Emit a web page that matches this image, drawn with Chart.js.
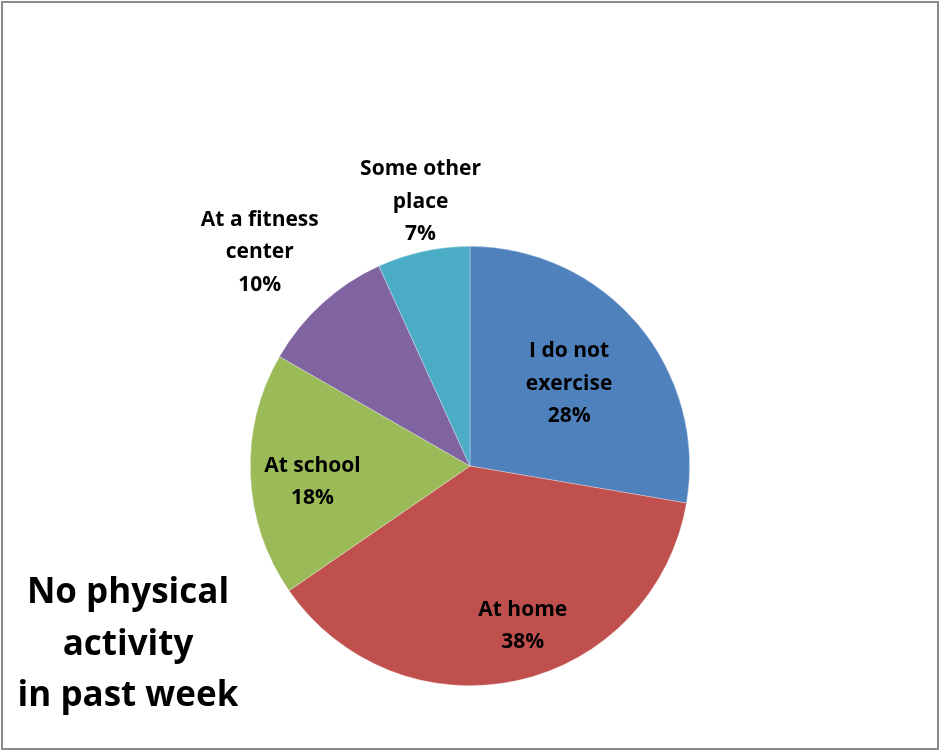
<!DOCTYPE html>
<html>
<head>
<meta charset="utf-8">
<script src="https://cdn.jsdelivr.net/npm/chart.js@4.4.1/dist/chart.umd.min.js"></script>
<style>
  html, body { margin: 0; padding: 0; background: #fff; }
  #wrap { position: relative; width: 940px; height: 751px; }
  #frame { position: absolute; left: 1px; top: 1px; width: 934px; height: 745px; border: 2px solid #8a8a8a; }
  #title { position: absolute; left: 0px; width: 256px; top: 564px; text-align: center;
           font-family: "Open Sans", Lato, sans-serif; font-weight: bold; font-size: 35px; line-height: 51.5px; color: #000; }
  canvas { position: absolute; left: 0; top: 0; }
</style>
</head>
<body>
<div id="wrap">
  <canvas id="c" width="940" height="751"></canvas>
  <div id="frame"></div>
  <div id="title">No physical<br>activity<br>in past week</div>
</div>
<script>
// Data
const categories = ["I do not exercise", "At home", "At school", "At a fitness center", "Some other place"];
const labelLines = [["I do not", "exercise"], ["At home"], ["At school"], ["At a fitness", "center"], ["Some other", "place"]];
const shares = [27.7, 37.7, 17.9, 9.9, 6.8];
const colors = ["#4F81BD", "#C0504D", "#9BBB59", "#8064A2", "#4BACC6"];

// label placement: radius as fraction of outer radius, angle nudge in degrees
const labelPlacement = [
  { r: 0.59, dA: 0 },
  { r: 0.76, dA: -6 },
  { r: 0.72, dA: -3 },
  { r: 1.37, dA: -2 },
  { r: 1.23, dA: 1.7 }
];

const labelPlugin = {
  id: 'sliceLabels',
  afterDatasetsDraw(chart) {
    const ctx = chart.ctx;
    const meta = chart.getDatasetMeta(0);
    const data = chart.data.datasets[0].data;
    ctx.save();
    ctx.font = "bold 21px 'Open Sans', Lato, sans-serif";
    ctx.fillStyle = "#000";
    ctx.textAlign = "center";
    ctx.textBaseline = "middle";
    const lh = 32.5;
    meta.data.forEach((arc, i) => {
      const p = arc.getProps(['x', 'y', 'startAngle', 'endAngle', 'outerRadius'], true);
      const mid = (p.startAngle + p.endAngle) / 2 + labelPlacement[i].dA * Math.PI / 180;
      const rr = p.outerRadius * labelPlacement[i].r;
      const cx = p.x + Math.cos(mid) * rr;
      const cy = p.y + Math.sin(mid) * rr + 1.5;
      const lines = labelLines[i].concat([Math.round(data[i]) + "%"]);
      const y0 = cy - (lines.length - 1) * lh / 2;
      lines.forEach((t, k) => ctx.fillText(t, cx, y0 + k * lh));
    });
    ctx.restore();
  }
};

new Chart(document.getElementById('c'), {
  type: 'pie',
  data: {
    labels: categories,
    datasets: [{
      data: shares,
      backgroundColor: colors,
      borderColor: 'rgba(255,255,255,0.5)',
      borderWidth: 0.6
    }]
  },
  options: {
    responsive: false,
    animation: false,
    layout: { padding: { top: 246, bottom: 65, left: 250, right: 250 } },
    plugins: {
      legend: { display: false },
      tooltip: { enabled: false }
    }
  },
  plugins: [labelPlugin]
});
</script>
</body>
</html>
